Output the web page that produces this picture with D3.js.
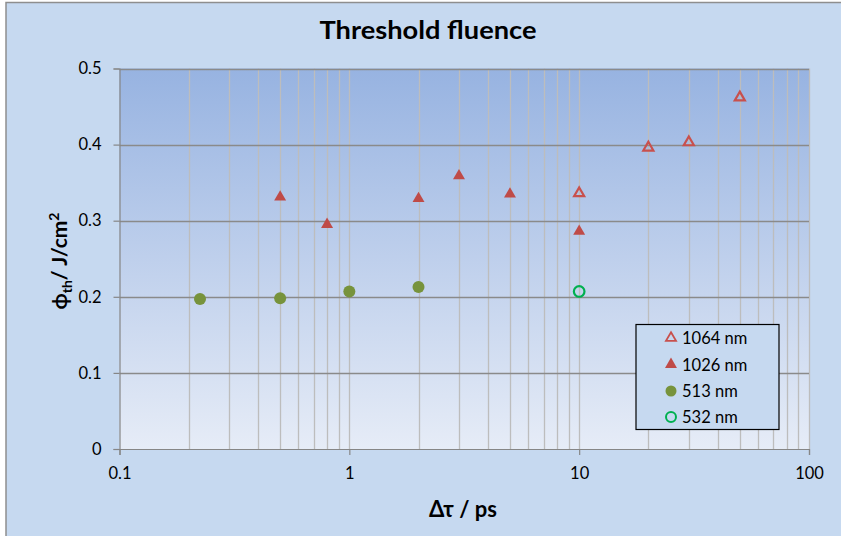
<!DOCTYPE html>
<html>
<head>
<meta charset="utf-8">
<script src="https://cdn.jsdelivr.net/npm/d3@7"></script>
<style>
  html, body { margin: 0; padding: 0; background: #ffffff; }
  svg { display: block; }
  text { font-family: Lato, "Open Sans", "DejaVu Sans", sans-serif; fill: #000; }
</style>
</head>
<body>
<svg id="chart" width="841" height="536"></svg>
<script>
// Threshold fluence vs. pulse delay, four wavelengths
const tau1064 = [10, 20, 30, 50];
const phi1064 = [0.336, 0.396, 0.403, 0.462];

const tau1026 = [0.5, 0.8, 2, 3, 5, 10];
const phi1026 = [0.331, 0.295, 0.329, 0.359, 0.335, 0.286];

const tau513 = [0.224, 0.5, 1, 2];
const phi513 = [0.197, 0.198, 0.207, 0.213];

const tau532 = [10];
const phi532 = [0.207];

const xTickValues = [0.1, 1, 10, 100];
const xTickLabels = ["0.1", "1", "10", "100"];
const yTickValues = [0, 0.1, 0.2, 0.3, 0.4, 0.5];
const yTickLabels = ["0", "0.1", "0.2", "0.3", "0.4", "0.5"];

const legendLabels = ["1064 nm", "1026 nm", "513 nm", "532 nm"];

const svg = d3.select("#chart");
const W = 841, H = 536;
const plot = { left: 119.5, right: 809, top: 68.5, bottom: 449 };

// chart background and frame
svg.append("rect").attr("x", 6).attr("y", 2.5).attr("width", W).attr("height", H)
  .attr("fill", "#c6d9f0").attr("stroke", "#8e8e8e").attr("stroke-width", 1.5);

const defs = svg.append("defs");
const grad = defs.append("linearGradient").attr("id", "plotFill")
  .attr("x1", 0).attr("y1", 0).attr("x2", 0).attr("y2", 1);
grad.append("stop").attr("offset", "0%").attr("stop-color", "#97b3e1");
grad.append("stop").attr("offset", "100%").attr("stop-color", "#e6ecf7");

const x = d3.scaleLog().domain([0.1, 100]).range([plot.left, plot.right]);
const y = d3.scaleLinear().domain([0, 0.5]).range([plot.bottom, plot.top]);

svg.append("rect")
  .attr("x", plot.left).attr("y", plot.top)
  .attr("width", plot.right - plot.left).attr("height", plot.bottom - plot.top)
  .attr("fill", "url(#plotFill)");

// vertical grid at every minor log step
const minorTicks = x.ticks().filter(v => v > 0.1 && v <= 100);
svg.append("g").selectAll("line").data(minorTicks).join("line")
  .attr("x1", d => Math.round(x(d)) + 0.5).attr("x2", d => Math.round(x(d)) + 0.5)
  .attr("y1", plot.top).attr("y2", plot.bottom)
  .attr("stroke", "#bdbdbd").attr("stroke-width", 1.3);

// horizontal grid
svg.append("g").selectAll("line").data(yTickValues.filter(v => v > 0)).join("line")
  .attr("x1", plot.left).attr("x2", plot.right)
  .attr("y1", d => Math.round(y(d)) + 0.5).attr("y2", d => Math.round(y(d)) + 0.5)
  .attr("stroke", "#8a8a8a").attr("stroke-width", 1.4);

// axes
const yAxis = d3.axisLeft(y).tickValues(yTickValues)
  .tickFormat((d, i) => yTickLabels[i]).tickSize(6).tickPadding(12);
const gy = svg.append("g").attr("transform", `translate(${plot.left},0)`).call(yAxis);
gy.select(".domain").attr("stroke", "#868686").attr("stroke-width", 1.2);
gy.selectAll(".tick line").attr("stroke", "#868686").attr("stroke-width", 1.2);
gy.selectAll(".tick text").attr("font-size", 16.5).attr("font-family", "Lato, sans-serif");

const xAxis = d3.axisBottom(x).tickValues(xTickValues)
  .tickFormat((d, i) => xTickLabels[i]).tickSize(6).tickPadding(12);
const gx = svg.append("g").attr("transform", `translate(0,${plot.bottom})`).call(xAxis);
gx.select(".domain").attr("stroke", "#868686").attr("stroke-width", 1.2);
gx.selectAll(".tick line").attr("stroke", "#868686").attr("stroke-width", 1.2);
gx.selectAll(".tick text").attr("font-size", 16.5).attr("font-family", "Lato, sans-serif");

// markers
const tri = d3.symbol().type(d3.symbolTriangle).size(62);
const pts = (xs, ys) => xs.map((v, i) => ({ t: v, p: ys[i] }));

svg.append("g").selectAll("path").data(pts(tau1026, phi1026)).join("path")
  .attr("d", tri)
  .attr("transform", d => `translate(${x(d.t)},${y(d.p)})`)
  .attr("fill", "#bf4b48");

svg.append("g").selectAll("path").data(pts(tau1064, phi1064)).join("path")
  .attr("d", d3.symbol().type(d3.symbolTriangle).size(44))
  .attr("transform", d => `translate(${x(d.t)},${y(d.p)})`)
  .attr("fill", "none").attr("stroke", "#c8504d").attr("stroke-width", 2.2);

svg.append("g").selectAll("circle").data(pts(tau513, phi513)).join("circle")
  .attr("cx", d => x(d.t)).attr("cy", d => y(d.p)).attr("r", 6)
  .attr("fill", "#77933c");

svg.append("g").selectAll("circle").data(pts(tau532, phi532)).join("circle")
  .attr("cx", d => x(d.t)).attr("cy", d => y(d.p)).attr("r", 5.3)
  .attr("fill", "none").attr("stroke", "#00b050").attr("stroke-width", 2.2);

// title
svg.append("text").attr("x", 428).attr("y", 39).attr("text-anchor", "middle")
  .attr("font-size", 24).attr("font-weight", "bold")
  .attr("textLength", 217).attr("lengthAdjust", "spacingAndGlyphs")
  .text("Threshold fluence");

// x-axis title
svg.append("text").attr("x", 463).attr("y", 517).attr("text-anchor", "middle")
  .attr("font-size", 22).attr("font-weight", "bold")
  .attr("textLength", 68).attr("lengthAdjust", "spacingAndGlyphs")
  .text("Δτ / ps");

// y-axis title with subscript and superscript
const yt = svg.append("text")
  .attr("transform", "translate(67,261) rotate(-90)")
  .attr("text-anchor", "middle").attr("font-size", 21).attr("font-weight", "bold");
yt.append("tspan").text("ϕ");
yt.append("tspan").attr("font-size", 14).attr("dy", 5).text("th");
yt.append("tspan").attr("dy", -5).text("/ J/cm");
yt.append("tspan").attr("font-size", 14).attr("dy", -8).text("2");

// legend
const lg = svg.append("g").attr("transform", "translate(636,324.5)");
lg.append("rect").attr("width", 143).attr("height", 105)
  .attr("fill", "#c6d9f0").attr("stroke", "#000").attr("stroke-width", 1.2);
const rowY = [13.5, 40, 66.5, 92.5];
const mk = 35, tx = 46;
lg.append("path").attr("d", d3.symbol().type(d3.symbolTriangle).size(44)())
  .attr("transform", `translate(${mk},${rowY[0]})`)
  .attr("fill", "none").attr("stroke", "#c8504d").attr("stroke-width", 1.8);
lg.append("path").attr("d", tri())
  .attr("transform", `translate(${mk},${rowY[1]})`).attr("fill", "#bf4b48");
lg.append("circle").attr("cx", mk).attr("cy", rowY[2]).attr("r", 5.5).attr("fill", "#77933c");
lg.append("circle").attr("cx", mk).attr("cy", rowY[3]).attr("r", 5).attr("fill", "none")
  .attr("stroke", "#00b050").attr("stroke-width", 2);
lg.selectAll("text.item").data(legendLabels).join("text").attr("class", "item")
  .attr("x", tx).attr("y", (d, i) => rowY[i] + 6)
  .attr("font-size", 16.5).text(d => d);
</script>
</body>
</html>
